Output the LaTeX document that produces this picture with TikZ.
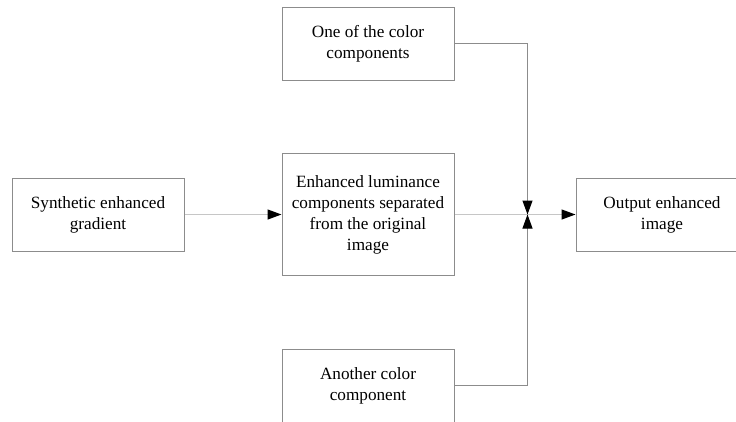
\documentclass[tikz,border=0pt]{standalone}
\usepackage{fontspec}
\setmainfont{Liberation Serif}
\usetikzlibrary{arrows.meta, calc}

\begin{document}
\begin{tikzpicture}[x=1pt, y=-1pt, % units are pixels of the figure, y downwards
    box/.style={draw=gray!90, line width=1pt, minimum width=172pt, minimum height=73pt,
        align=center, inner sep=0pt, font=\fontsize{17.2}{21}\selectfont},
    tip/.style={-{Triangle[length=14pt, width=10pt, color=black]}},
    feed/.style={tip, draw=gray!45, line width=1.3pt},
    side/.style={tip, draw=gray!90, line width=1pt}]
        % Page frame
        \clip (0,0) rectangle (736,421);

        % Define Blocks
        \node[box] (grad) at (98,214.5) {Synthetic enhanced\\gradient};
        \node[box, minimum height=122pt] (lum) at (368,214.5) {Enhanced luminance\\components separated\\from the original\\image};
        \node[box] (comp1) at (368,43.5) {One of the color\\components};
        \node[box] (comp2) at (368,385.5) {Another color\\component};
        \node[box] (out) at (662,214.5) {Output enhanced\\image};

        % Merge point
        \coordinate (join) at (527.5,214.5);

        % Main path
        \draw[feed] (grad.east) -- (lum.west);
        \draw[feed] (lum.east) -- (out.west);

        % Colour components into the merge point
        \draw[side] (comp1.east) -| (join);
        \draw[side] (comp2.east) -| (join);

    \end{tikzpicture}
\end{document}
